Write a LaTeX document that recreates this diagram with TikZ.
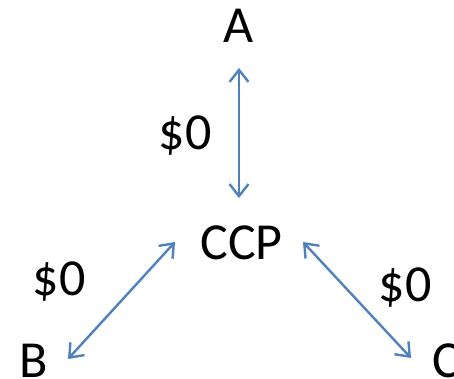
\documentclass[tikz,border=0pt]{standalone}
\usepackage{fontspec}
\setmainfont{Carlito}
\usetikzlibrary{arrows.meta}
\definecolor{linkblue}{HTML}{4F81BD}
\tikzset{
  party/.style={inner sep=0pt, anchor=base, font=\fontsize{52}{60}\selectfont, text=black},
  amount/.style={inner sep=0pt, anchor=base, font=\fontsize{52}{60}\selectfont, text=black},
  link/.style={draw=linkblue, line width=2.4pt,
    {Straight Barb[length=12pt,width=19pt]}-{Straight Barb[length=12pt,width=19pt]}}
}
\begin{document}
\begin{tikzpicture}[x=1pt, y=-1pt]
  \useasboundingbox (0,0) rectangle (454,379);
  % parties and the clearing house
  \node[party] (A)   at (239,43)   {A};
  \node[party] (CCP) at (241.5,259) {CCP};
  \node[party] (B)   at (33.5,377) {B};
  \node[party] (C)   at (446,377)  {C};
  % exposures
  \node[amount] (ab) at (185,150) {\$0};
  \node[amount] (bb) at (59,295)  {\$0};
  \node[amount] (cb) at (405,301) {\$0};
  % two-way links to the CCP
  \draw[link] ([yshift=-25pt]A.base) -- ([yshift=61pt]A.base |- CCP.base);
  \draw[link] ([shift={(34.5,-18)}]B.base) -- ([shift={(-66.5,-17)}]CCP.base);
  \draw[link] ([shift={(61.5,-17)}]CCP.base) -- ([shift={(-35,-19)}]C.base);
\end{tikzpicture}
\end{document}
